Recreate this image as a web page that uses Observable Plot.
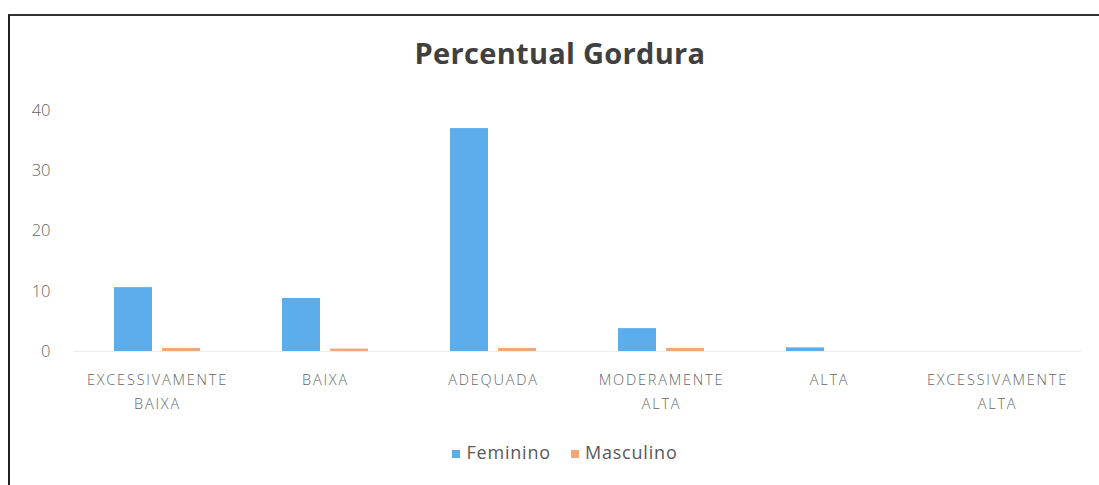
<!DOCTYPE html>
<html>
<head>
<meta charset="utf-8">
<script src="https://cdn.jsdelivr.net/npm/d3@7"></script>
<script src="https://cdn.jsdelivr.net/npm/@observablehq/plot@0.6"></script>
<style>
  html, body { margin: 0; padding: 0; background: #fff; overflow: hidden; }
  body { width: 1099px; height: 485px; position: relative; font-family: "Open Sans", "Noto Sans", sans-serif; }
  #frame { position: absolute; left: 8px; top: 14px; width: 1091px; height: 471px; border-left: 2px solid #222; border-top: 2px solid #333; box-sizing: border-box; }
  #title { position: absolute; left: 0; width: 1120px; top: 33px; text-align: center; font-size: 29px; font-weight: 700; color: #404040; letter-spacing: 0.3px; }
  #chart { position: absolute; left: 0; top: 0; }
  #legend { position: absolute; top: 440px; left: 0; width: 1130px; text-align: center; font-size: 18px; color: #595959; letter-spacing: 0.8px; }
  #legend span.item { margin: 0 10px; }
  #legend span.sw { display: inline-block; width: 8px; height: 8px; margin-right: 6px; vertical-align: 1px; }
  g[aria-label="fx-axis tick label"] text { letter-spacing: 1.8px; }
</style>
</head>
<body>
<div id="frame"></div>
<div id="title">Percentual Gordura</div>
<div id="chart"></div>
<div id="legend"></div>
<script>
const categories = ["EXCESSIVAMENTE\nBAIXA", "BAIXA", "ADEQUADA", "MODERAMENTE\nALTA", "ALTA", "EXCESSIVAMENTE\nALTA"];
const series = ["Feminino", "Masculino"];
const feminino = [10.6, 8.8, 37, 3.8, 0.6, 0];
const masculino = [0.5, 0.4, 0.5, 0.5, 0, 0];
const yTicks = [0, 10, 20, 30, 40];
const colors = ["#5badec", "#f3a676"];

const data = [];
categories.forEach((c, i) => {
  data.push({category: c, serie: series[0], value: feminino[i]});
  data.push({category: c, serie: series[1], value: masculino[i]});
});

const chart = Plot.plot({
  width: 1099,
  height: 420,
  marginTop: 110,
  marginBottom: 69,
  marginLeft: 73,
  marginRight: 18,
  style: {fontFamily: "'Open Sans', 'Noto Sans', sans-serif", color: "#595959", background: "transparent"},
  fx: {domain: categories, padding: 0, label: null},
  x: {domain: series, paddingInner: 0.21, paddingOuter: 0.855, axis: null},
  y: {domain: [0, 40], ticks: yTicks, label: null},
  color: {domain: series, range: colors},
  marks: [
    Plot.axisY({ticks: yTicks, tickSize: 0, tickPadding: 23, fontSize: 16.5, label: null, fill: "#666", fontWeight: 300}),
    Plot.axisFx({anchor: "bottom", tickSize: 0, tickPadding: 17, fontSize: 14.5, label: null, fill: "#666", lineHeight: 1.65, fontWeight: 300}),
    Plot.ruleY([0], {stroke: "#ececec"}),
    Plot.barY(data, {fx: "category", x: "serie", y: "value", fill: "serie"})
  ]
});
document.getElementById("chart").appendChild(chart);

const legend = document.getElementById("legend");
series.forEach((s, i) => {
  const item = document.createElement("span");
  item.className = "item";
  const sw = document.createElement("span");
  sw.className = "sw";
  sw.style.background = colors[i];
  item.appendChild(sw);
  item.appendChild(document.createTextNode(s));
  legend.appendChild(item);
});
</script>
</body>
</html>
